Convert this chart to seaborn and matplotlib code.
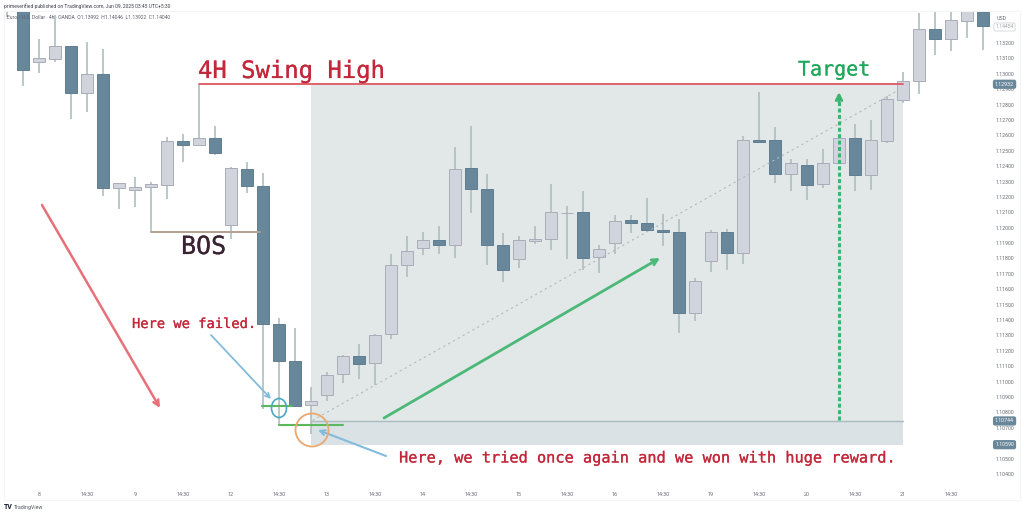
import numpy as np
import pandas as pd
import seaborn as sns
import matplotlib.pyplot as plt
import matplotlib.patheffects as pe
from matplotlib.lines import Line2D
from matplotlib.patches import Ellipse

# 4h candles, EUR/USD
opens = [1.13620, 1.13500, 1.13076, 1.13096, 1.13180, 1.12875, 1.12998, 1.12258, 1.12245, 1.12264, 1.12277,
         1.12563, 1.12537, 1.12582, 1.12017, 1.12381, 1.12271, 1.11374, 1.11134, 1.10848, 1.10913,
         1.11049, 1.11166, 1.11121, 1.11309, 1.11757, 1.11868, 1.11920, 1.11887, 1.12388, 1.12251,
         1.11887, 1.11796, 1.11913, 1.11926, 1.12095, 1.12102, 1.11809, 1.11900, 1.12050, 1.12030,
         1.11985, 1.11972, 1.11445, 1.11783, 1.11972, 1.11835, 1.12569, 1.12569, 1.12349, 1.12407,
         1.12284, 1.12420, 1.12582, 1.12342, 1.12563, 1.12829, 1.12953, 1.13291, 1.13226, 1.13343, 1.13401]
highs = [1.13700, 1.13640, 1.13226, 1.13382, 1.13180, 1.13206, 1.13161, 1.12290, 1.12329, 1.12297, 1.12589,
         1.12608, 1.12927, 1.12660, 1.12394, 1.12426, 1.12355, 1.11413, 1.11348, 1.10965, 1.11062,
         1.11173, 1.11244, 1.11309, 1.11829, 1.11946, 1.11972, 1.12011, 1.12524, 1.12660, 1.12349,
         1.11965, 1.11946, 1.12011, 1.12284, 1.12141, 1.12238, 1.11887, 1.12082, 1.12082, 1.12193,
         1.12089, 1.12056, 1.11673, 1.11985, 1.11991, 1.12595, 1.12881, 1.12654, 1.12446, 1.12446,
         1.12511, 1.12582, 1.12673, 1.12699, 1.12855, 1.13011, 1.13395, 1.13420, 1.13447, 1.13500, 1.13460]
lows = [1.13369, 1.12920, 1.13005, 1.13076, 1.12706, 1.12751, 1.12206, 1.12121, 1.12134, 1.11972, 1.12186,
        1.12426, 1.12530, 1.12472, 1.11926, 1.12225, 1.10822, 1.10718, 1.10841, 1.10659, 1.10874,
        1.10991, 1.11017, 1.10978, 1.11277, 1.11679, 1.11822, 1.11829, 1.11803, 1.12095, 1.11757,
        1.11647, 1.11738, 1.11894, 1.11855, 1.11796, 1.11725, 1.11705, 1.11829, 1.11965, 1.11972,
        1.11881, 1.11316, 1.11393, 1.11712, 1.11725, 1.11764, 1.12550, 1.12290, 1.12238, 1.12180,
        1.12258, 1.12420, 1.12238, 1.12245, 1.12550, 1.12810, 1.12868, 1.13122, 1.13148, 1.13232, 1.13154]
closes = [1.13500, 1.13024, 1.13102, 1.13180, 1.12875, 1.12998, 1.12258, 1.12290, 1.12264, 1.12284, 1.12563,
          1.12537, 1.12582, 1.12485, 1.12388, 1.12271, 1.11374, 1.11134, 1.10841, 1.10874, 1.11043,
          1.11166, 1.11114, 1.11303, 1.11757, 1.11848, 1.11920, 1.11887, 1.12381, 1.12251, 1.11887,
          1.11725, 1.11920, 1.11926, 1.12102, 1.12098, 1.11803, 1.11861, 1.12043, 1.12030, 1.11985,
          1.11972, 1.11445, 1.11653, 1.11972, 1.11835, 1.12569, 1.12560, 1.12349, 1.12420, 1.12277,
          1.12420, 1.12582, 1.12342, 1.12569, 1.12836, 1.12953, 1.13291, 1.13226, 1.13349, 1.13480, 1.13310]

time_labels = ['8', '14:30', '9', '14:30', '12', '14:30', '13', '14:30', '14', '14:30',
               '15', '14:30', '16', '14:30', '19', '14:30', '20', '14:30', '21', '14:30']
price_ticks = [1.132, 1.131, 1.130, 1.129, 1.128, 1.127, 1.126, 1.125, 1.124, 1.123, 1.122, 1.121, 1.120, 1.119,
               1.118, 1.117, 1.116, 1.115, 1.114, 1.113, 1.112, 1.111, 1.110, 1.109, 1.108, 1.107, 1.106, 1.105, 1.104]

target_price = 1.12932
entry_price = 1.10744
stop_price = 1.10590
bos_price = 1.11972
fail_price = 1.10841
retry_price = 1.10718

BULL = '#d1d4dc'
BULL_EDGE = '#a9adb8'
BEAR = '#68879a'
BEAR_EDGE = '#5f7e90'
WICK = '#adbfbf'
RED_TEXT = '#c2283a'

W, H = 1024, 515


def px(x, y):
    # figure fraction from picture pixels, used for the hand drawn annotations
    return x / W, 1 - y / H


df = pd.DataFrame({'open': opens, 'high': highs, 'low': lows, 'close': closes})
df['i'] = df.index
df['up'] = df.close >= df.open

sns.set_theme(style='white')
plt.rcParams['font.family'] = ['Roboto', 'DejaVu Sans']

fig = plt.figure(figsize=(W / 100, H / 100), dpi=100, facecolor='white')
ax = fig.add_axes([4 / W, 1 - 487 / H, 988 / W, 476 / H])
ax.set_xlim(-0.1875, 61.5625)
ax.set_ylim(1.10315, 1.13408)
sns.despine(ax=ax, left=True, bottom=True, top=True, right=True)

# position zones
ax.axvspan(19, 56, ymin=(entry_price - 1.10315) / 0.03093, ymax=(target_price - 1.10315) / 0.03093,
           color='#e2e7e8', lw=0, zorder=0)
ax.axvspan(19, 56, ymin=(stop_price - 1.10315) / 0.03093, ymax=(entry_price - 1.10315) / 0.03093,
           color='#dae2e6', lw=0, zorder=0)

# level lines
sns.lineplot(x=[19, 56], y=[entry_price, entry_price], ax=ax, color='#a9bdbf', lw=1, zorder=1)
sns.lineplot(x=[12, 56], y=[target_price, target_price], ax=ax, color='#df646c', lw=1.4, zorder=4)
sns.lineplot(x=[9, 15.8], y=[bos_price, bos_price], ax=ax, color='#b59f90', lw=1.4, zorder=4)
sns.lineplot(x=[15.95, 17.8], y=[fail_price, fail_price], ax=ax, color='#5cb85c', lw=1.5, zorder=4)
sns.lineplot(x=[17, 21], y=[retry_price, retry_price], ax=ax, color='#5cb85c', lw=1.5, zorder=4)
sns.lineplot(x=[19.1, 55.6], y=[entry_price + 0.00004, target_price - 0.00045], ax=ax,
             color='#b4b9bb', lw=0.8, linestyle=(0, (2, 3)), zorder=3)

# candles
ax.vlines(df.i, df.low, df.high, color=WICK, lw=1.2, zorder=2)
ax.bar(df.i, (df.close - df.open).abs(), bottom=df[['open', 'close']].min(axis=1), width=0.78,
       color=[BULL if u else BEAR for u in df.up],
       edgecolor=[BULL_EDGE if u else BEAR_EDGE for u in df.up], linewidth=0.7, zorder=2)

ax.set_xticks(np.arange(len(time_labels)) * 3 + 2)
ax.set_xticklabels(time_labels, fontsize=3.9, color='#6a6d78')
ax.set_yticks(price_ticks)
ax.set_yticklabels([f'{p:.5f}' for p in price_ticks], fontsize=3.8, color='#6a6d78')
ax.yaxis.tick_right()
ax.tick_params(axis='x', length=0, pad=3.6)
ax.tick_params(axis='y', length=0, pad=2.9)

# price pills on the scale
for p in [target_price, entry_price, stop_price]:
    ax.text(1.0127, p, f'{p:.5f}', transform=ax.get_yaxis_transform(), ha='center', va='center',
            fontsize=3.8, color='white',
            bbox=dict(boxstyle='round,pad=0.4', fc='#68879a', ec='none'))
fig.text(*px(1002, 18), 'USD', fontsize=3.8, color='#6a6d78', ha='center', va='center')
fig.text(*px(1004.5, 27), '1.14454', fontsize=3.6, color='#a0a4ae', ha='center', va='center',
         bbox=dict(boxstyle='round,pad=0.3', fc='white', ec='#c8ccd4', lw=0.5))

# panel border
for xs, ys in [((4, 1020), (11, 11)), ((4, 1020), (500, 500)), ((4, 4), (11, 500)), ((1020, 1020), (11, 500))]:
    a = px(xs[0], ys[0])
    b = px(xs[1], ys[1])
    fig.add_artist(Line2D([a[0], b[0]], [a[1], b[1]], color='#f3f4f6', lw=0.7))

# header and footer
fig.text(*px(4, 6), 'primeverified published on TradingView.com, Jun 09, 2025 03:45 UTC+5:30',
         fontsize=3.6, color='#3c3f48', va='center')
fig.text(*px(7, 17), 'Euro / U.S. Dollar · 4h · OANDA  O1.13992  H1.14046  L1.13922  C1.14040',
         fontsize=3.6, color='#5c5f6a', va='center')
fig.text(*px(4, 507), 'TV', fontsize=5, color='#131722', va='center', fontweight='bold')
fig.text(*px(14, 507), 'TradingView', fontsize=3.8, color='#555862', va='center')

# annotations, drawn by hand on the original
mono = 'DejaVu Sans Mono'


def note(x, y, label, size, color):
    t = fig.text(*px(x, y), label, family=mono, fontsize=size, color=color, va='center')
    t.set_path_effects([pe.withStroke(linewidth=0.15, foreground=color)])


note(198, 71, '4H Swing High', 17.2, RED_TEXT)
note(181, 247, 'BOS', 18, '#3b2333')
note(798, 70, 'Target', 14.4, '#1ea85a')
note(132, 324, 'Here we failed.', 9.9, RED_TEXT)
note(399, 458, 'Here, we tried once again and we won with huge reward.', 11, RED_TEXT)


def arrow(start, end, color, lw, scale=10):
    ax.annotate('', xy=px(*end), xytext=px(*start), xycoords='figure fraction', textcoords='figure fraction',
                arrowprops=dict(arrowstyle='->', color=color, lw=lw, mutation_scale=scale,
                                shrinkA=0, shrinkB=0), zorder=6)


arrow((42, 205), (160, 408), '#e8707a', 1.8, 10)
arrow((211, 335), (271, 399), '#82bbdc', 1.3, 8)
arrow((386, 456), (318, 430), '#82bbdc', 1.5, 9)
arrow((384, 418), (660, 258), '#4cb878', 2.0, 10)
arrow((839, 102), (839, 92), '#3db56f', 2.0, 10)
a = px(839, 420)
b = px(839, 100)
fig.add_artist(Line2D([a[0], b[0]], [a[1], b[1]], color='#3db56f', lw=2.2, linestyle=(0, (1.3, 0.8)), zorder=6))

# circles around the two entries
c = px(279, 408)
fig.add_artist(Ellipse(c, 15 / W, 19 / H, transform=fig.transFigure, fc='none', ec='#4ba8c4', lw=1.2, zorder=6))
c = px(312, 430)
fig.add_artist(Ellipse(c, 33 / W, 33 / H, transform=fig.transFigure, fc='none', ec='#e8a870', lw=1.3, zorder=6))

fig.savefig('out.png', dpi=100)
